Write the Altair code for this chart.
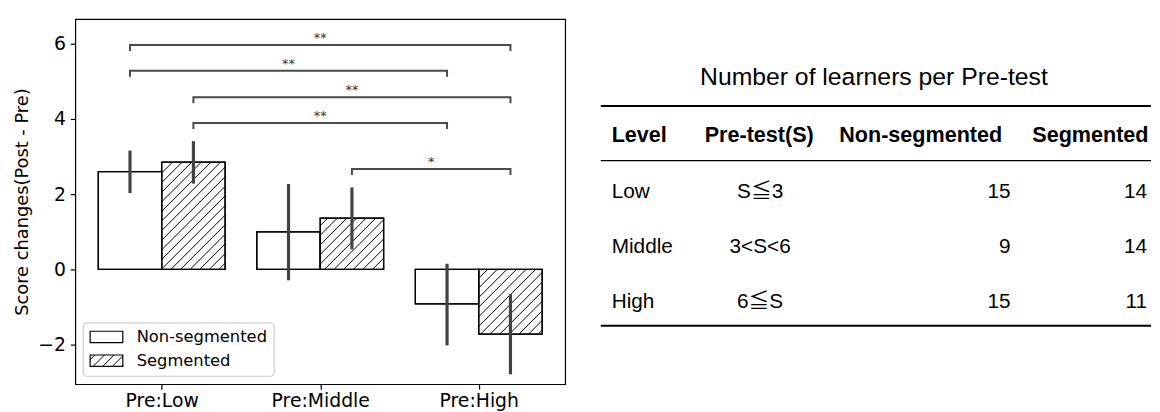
import altair as alt
import numpy as np
import pandas as pd

# ---------------- data ----------------
groups = ["Pre:Low", "Pre:Middle", "Pre:High"]
conditions = ["Non-segmented", "Segmented"]
nonseg_mean = [2.60, 1.00, -0.92]
seg_mean = [2.85, 1.36, -1.72]
nonseg_ci_low = [2.03, -0.29, -2.02]
nonseg_ci_high = [3.16, 2.27, 0.15]
seg_ci_low = [2.28, 0.53, -2.79]
seg_ci_high = [3.41, 2.18, -0.66]

# significance brackets: (group, condition) -> (group, condition)
sig_from = [(0, 0), (0, 0), (0, 1), (0, 1), (1, 1)]
sig_to = [(2, 1), (2, 0), (2, 1), (2, 0), (2, 1)]
sig_height = [5.97, 5.28, 4.58, 3.89, 2.67]
sig_label = ["**", "**", "**", "**", "*"]

y_ticks = [-2, 0, 2, 4, 6]
y_title = "Score changes(Post - Pre)"

table_title = "Number of learners per Pre-test"
table_header = ["Level", "Pre-test(S)", "Non-segmented", "Segmented"]
levels = ["Low", "Middle", "High"]
pretest_range = ["S≦3", "3<S<6", "6≦S"]
n_nonseg = [15, 9, 15]
n_seg = [14, 14, 11]

# ---------------- layout / style ----------------
PW, PH = 495, 369
XDOM = [-0.545, 2.545]
YDOM = [-3.053, 6.658]
BAR_W = 0.4
KX = PW / (XDOM[1] - XDOM[0])
KY = PH / (YDOM[1] - YDOM[0])
HATCH = 9.7
TICK_DEPTH = 0.16
CHART_FONT = "DejaVu Sans"
TABLE_FONT = "Liberation Sans, Arial, Noto Sans CJK JP, sans-serif"


def px_to_x(px):
    return px / KX + XDOM[0]


def py_to_y(py):
    return YDOM[1] - py / KY


def hatch(x0, x1, y0, y1):
    X0, X1 = (x0 - XDOM[0]) * KX, (x1 - XDOM[0]) * KX
    Y0, Y1 = (min(y0, y1) - YDOM[0]) * KY, (max(y0, y1) - YDOM[0]) * KY
    segs = []
    k0 = int(np.floor((X0 - Y1) / HATCH))
    k1 = int(np.ceil((X1 - Y0) / HATCH))
    for k in range(k0, k1 + 1):
        c = k * HATCH
        lo = max(X0, Y0 + c)
        hi = min(X1, Y1 + c)
        if hi - lo > 0.3:
            segs.append(dict(x=lo / KX + XDOM[0], y=(lo - c) / KY + YDOM[0],
                             x2=hi / KX + XDOM[0], y2=(hi - c) / KY + YDOM[0]))
    return segs


# bars table
means = [nonseg_mean, seg_mean]
lows = [nonseg_ci_low, seg_ci_low]
highs = [nonseg_ci_high, seg_ci_high]
rows = []
for i, g in enumerate(groups):
    for j, c in enumerate(conditions):
        x0 = i - BAR_W + BAR_W * j
        rows.append(dict(group=g, cond=c, x=x0, x2=x0 + BAR_W, xc=x0 + BAR_W / 2,
                         y=0.0, y2=means[j][i], lo=lows[j][i], hi=highs[j][i]))
bars = pd.DataFrame(rows)

hatch_rows = []
for r in rows:
    if r["cond"] == "Segmented":
        hatch_rows += hatch(r["x"], r["x2"], r["y"], r["y2"])
hatch_df = pd.DataFrame(hatch_rows)


# brackets
def bar_center(gc):
    g, c = gc
    return g - BAR_W + BAR_W * c + BAR_W / 2


br_rows, br_lab = [], []
for k, (a, b, h, lab) in enumerate(zip(sig_from, sig_to, sig_height, sig_label)):
    xa, xb = bar_center(a), bar_center(b)
    pts = [(xa, h - TICK_DEPTH), (xa, h), (xb, h), (xb, h - TICK_DEPTH)]
    for s, (px, py) in enumerate(pts):
        br_rows.append(dict(id=k, seq=s, x=px, y=py))
    br_lab.append(dict(x=(xa + xb) / 2, y=h, label=lab))
brackets = pd.DataFrame(br_rows)
br_labels = pd.DataFrame(br_lab)

# legend (pixel layout inside plot, converted to data space)
LEG_FRAME = (8, 201, 307, 361)
LEG_SW = [(15, 48, 315.5, 327), (15, 48, 339.5, 351)]
LEG_TX = 62
LEG_TY = [321, 345.5]
leg_frame = pd.DataFrame([dict(x=px_to_x(LEG_FRAME[0]), x2=px_to_x(LEG_FRAME[1]),
                               y=py_to_y(LEG_FRAME[2]), y2=py_to_y(LEG_FRAME[3]))])
leg_sw = pd.DataFrame([dict(x=px_to_x(s[0]), x2=px_to_x(s[1]), y=py_to_y(s[2]), y2=py_to_y(s[3]))
                       for s in LEG_SW])
leg_hatch = pd.DataFrame(hatch(px_to_x(LEG_SW[1][0]), px_to_x(LEG_SW[1][1]),
                               py_to_y(LEG_SW[1][2]), py_to_y(LEG_SW[1][3])))
leg_text = pd.DataFrame([dict(x=px_to_x(LEG_TX), y=py_to_y(ty), label=c)
                         for ty, c in zip(LEG_TY, conditions)])

# ---------------- encodings ----------------
XS = alt.Scale(domain=XDOM, nice=False, zero=False)
YS = alt.Scale(domain=YDOM, nice=False, zero=False)
label_expr = "[" + ",".join("'%s'" % g for g in groups) + "][datum.value]"
XA = alt.Axis(values=[0, 1, 2], labelExpr=label_expr, tickSize=5, tickWidth=1.2, tickColor="black",
              domain=False, grid=False, labelFontSize=19, labelColor="black", labelPadding=3,
              labelFont=CHART_FONT, title=None)
YA = alt.Axis(values=y_ticks, format="d", tickSize=5, tickWidth=1.2, tickColor="black",
              domain=False, grid=False, labelFontSize=19, labelColor="black", labelPadding=5,
              labelFont=CHART_FONT, title=y_title, titleFontSize=18, titleFontWeight="normal",
              titleColor="black", titleFont=CHART_FONT, titlePadding=6)


def X(f="x"):
    return alt.X(f"{f}:Q", scale=XS, axis=XA, title=None)


def Y(f="y"):
    return alt.Y(f"{f}:Q", scale=YS, axis=YA, title=y_title)


bar_layer = alt.Chart(bars).mark_rect(fill="white", stroke="black", strokeWidth=1.3).encode(
    x=X(), x2="x2:Q", y=Y(), y2="y2:Q")
hatch_layer = alt.Chart(hatch_df).mark_rule(color="black", strokeWidth=1).encode(
    x=X(), x2="x2:Q", y=Y(), y2="y2:Q")
bar_edge = alt.Chart(bars).mark_rect(fill="transparent", stroke="black", strokeWidth=1.3).encode(
    x=X(), x2="x2:Q", y=Y(), y2="y2:Q")
err_layer = alt.Chart(bars).mark_rule(color="#424242", strokeWidth=3.2).encode(
    x=X("xc"), y=Y("lo"), y2="hi:Q")
br_layer = alt.Chart(brackets).mark_line(color="#4a4a4a", strokeWidth=2).encode(
    x=X(), y=Y(), detail="id:N", order="seq:Q")
br_text = alt.Chart(br_labels).mark_text(font=CHART_FONT, fontSize=13, color="#333333",
                                         baseline="alphabetic", dy=-3).encode(
    x=X(), y=Y(), text="label:N")
leg_frame_layer = alt.Chart(leg_frame).mark_rect(fill="white", fillOpacity=0.8, stroke="#cccccc",
                                                 strokeWidth=1.2, cornerRadius=4).encode(
    x=X(), x2="x2:Q", y=Y(), y2="y2:Q")
leg_sw_layer = alt.Chart(leg_sw).mark_rect(fill="white", stroke="black", strokeWidth=1.2).encode(
    x=X(), x2="x2:Q", y=Y(), y2="y2:Q")
leg_hatch_layer = alt.Chart(leg_hatch).mark_rule(color="black", strokeWidth=1).encode(
    x=X(), x2="x2:Q", y=Y(), y2="y2:Q")
leg_text_layer = alt.Chart(leg_text).mark_text(font=CHART_FONT, fontSize=16.5, color="black",
                                               align="left", baseline="middle").encode(
    x=X(), y=Y(), text="label:N")

bar_chart = alt.layer(bar_layer, hatch_layer, bar_edge, err_layer, br_layer, br_text,
                      leg_frame_layer, leg_sw_layer, leg_hatch_layer, leg_text_layer).properties(
    width=PW, height=PH, view=alt.ViewBackground(stroke="black", strokeWidth=1.2, fill="white"))

# ---------------- table ----------------
TW, TH = 556, 369
T_TITLE = (276, 67)
T_HEAD_Y = 124
T_HEAD_X = [11, 105, 241, 436]
T_ROW_Y = [181, 236, 292]
T_COL_LEVEL = 11
T_COL_PRE = 161
T_COL_NONSEG = 414
T_COL_SEG = 552
T_RULES = [(88, 2.0), (143, 1.3), (310, 2.0)]

TX = alt.X("px:Q", scale=None, axis=None)
TY = alt.Y("py:Q", scale=None, axis=None)

t_title = alt.Chart(pd.DataFrame([dict(px=T_TITLE[0], py=T_TITLE[1], t=table_title)])).mark_text(
    font=TABLE_FONT, fontSize=25, color="black", align="center", baseline="alphabetic").encode(
    x=TX, y=TY, text="t:N")
t_head = alt.Chart(pd.DataFrame([dict(px=x, py=T_HEAD_Y, t=h) for x, h in zip(T_HEAD_X, table_header)])
                   ).mark_text(font=TABLE_FONT, fontSize=21.8, fontWeight="bold", color="black",
                               align="left", baseline="alphabetic").encode(
    x=TX, y=TY, text="t:N")
t_level = alt.Chart(pd.DataFrame([dict(px=T_COL_LEVEL, py=y, t=v) for y, v in zip(T_ROW_Y, levels)])
                    ).mark_text(font=TABLE_FONT, fontSize=21, color="black", align="left",
                                baseline="alphabetic").encode(x=TX, y=TY, text="t:N")
t_pre = alt.Chart(pd.DataFrame([dict(px=T_COL_PRE, py=y, t=v) for y, v in zip(T_ROW_Y, pretest_range)])
                  ).mark_text(font=TABLE_FONT, fontSize=21, color="black", align="center",
                              baseline="alphabetic").encode(x=TX, y=TY, text="t:N")
t_non = alt.Chart(pd.DataFrame([dict(px=T_COL_NONSEG, py=y, t=str(v)) for y, v in zip(T_ROW_Y, n_nonseg)])
                  ).mark_text(font=TABLE_FONT, fontSize=21, color="black", align="right",
                              baseline="alphabetic").encode(x=TX, y=TY, text="t:N")
t_seg = alt.Chart(pd.DataFrame([dict(px=T_COL_SEG, py=y, t=str(v)) for y, v in zip(T_ROW_Y, n_seg)])
                  ).mark_text(font=TABLE_FONT, fontSize=21, color="black", align="right",
                              baseline="alphabetic").encode(x=TX, y=TY, text="t:N")
t_rules = alt.Chart(pd.DataFrame([dict(px=0, px2=TW, py=y, w=w) for y, w in T_RULES])).mark_rule(
    color="black").encode(x=TX, x2="px2:Q", y=TY,
                          strokeWidth=alt.StrokeWidth("w:Q", scale=None, legend=None))

table = alt.layer(t_rules, t_title, t_head, t_level, t_pre, t_non, t_seg).properties(
    width=TW, height=TH, view=alt.ViewBackground(strokeOpacity=0, fill="white"))

chart = alt.hconcat(bar_chart, table, spacing=34).properties(
    padding={"left": 5, "top": 8, "right": 0, "bottom": 0}, background="white")

chart.save("out.html", embed_options={"renderer": "svg", "actions": False})
